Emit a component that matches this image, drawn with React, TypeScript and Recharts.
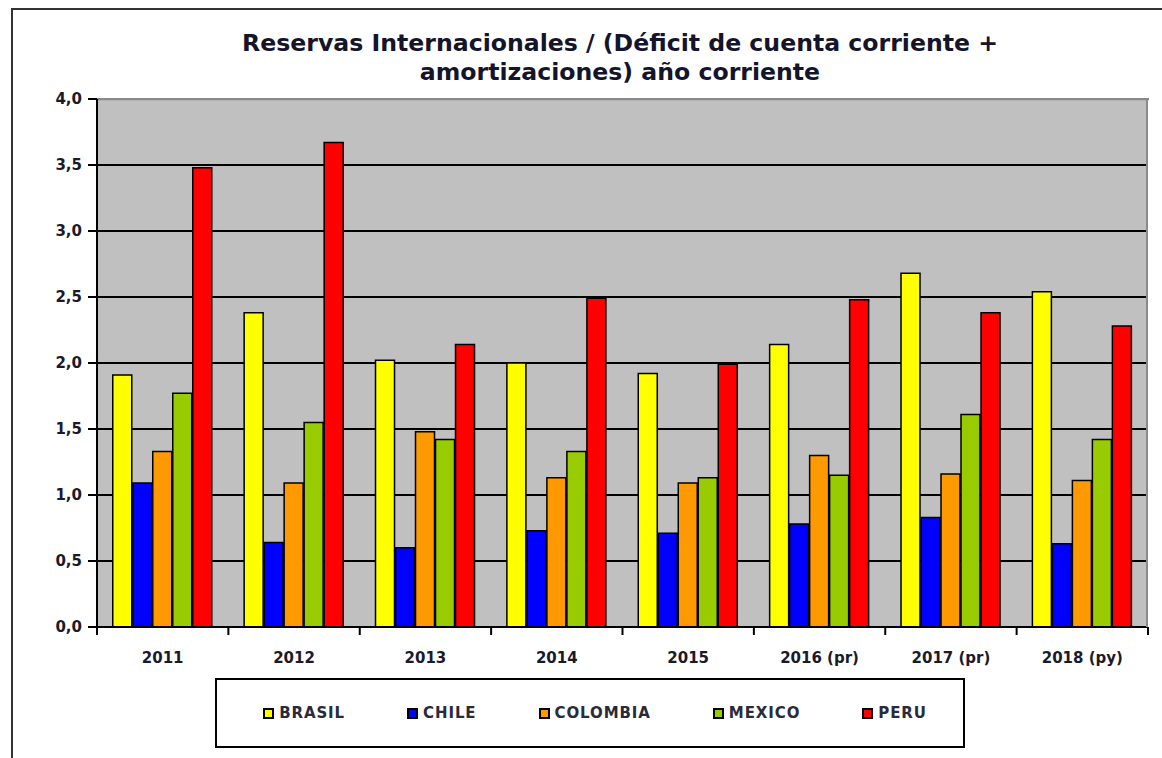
import { BarChart, Bar, XAxis, YAxis, CartesianGrid, ReferenceArea } from 'recharts';

const years = ['2011', '2012', '2013', '2014', '2015', '2016 (pr)', '2017 (pr)', '2018 (py)'];
const brasil = [1.91, 2.38, 2.02, 2.0, 1.92, 2.14, 2.68, 2.54];
const chile = [1.09, 0.64, 0.6, 0.73, 0.71, 0.78, 0.83, 0.63];
const colombia = [1.33, 1.09, 1.48, 1.13, 1.09, 1.3, 1.16, 1.11];
const mexico = [1.77, 1.55, 1.42, 1.33, 1.13, 1.15, 1.61, 1.42];
const peru = [3.48, 3.67, 2.14, 2.49, 1.99, 2.48, 2.38, 2.28];
const yTicks = [0, 0.5, 1, 1.5, 2, 2.5, 3, 3.5, 4];

const series = [
  { key: 'brasil', name: 'BRASIL', color: '#FFFF00' },
  { key: 'chile', name: 'CHILE', color: '#0000FF' },
  { key: 'colombia', name: 'COLOMBIA', color: '#FF9900' },
  { key: 'mexico', name: 'MEXICO', color: '#99CC00' },
  { key: 'peru', name: 'PERU', color: '#FF0000' },
];

const data = years.map((year, i) => ({
  year,
  brasil: brasil[i],
  chile: chile[i],
  colombia: colombia[i],
  mexico: mexico[i],
  peru: peru[i],
}));

const font = '"DejaVu Sans", Verdana, sans-serif';

// year label in the middle, tick marks on the category borders
const YearTick = (props: any) => {
  const { x, y, payload, index } = props;
  const half = payload.offset || 65.6;
  return (
    <g>
      <line x1={x - half} y1={y - 8} x2={x - half} y2={y} stroke="#000" strokeWidth={2} />
      {index === years.length - 1 && (
        <line x1={x + half} y1={y - 8} x2={x + half} y2={y} stroke="#000" strokeWidth={2} />
      )}
      <text
        x={x}
        y={y + 28}
        textAnchor="middle"
        fontFamily={font}
        fontWeight="bold"
        fontSize={15}
        fill="#1a1a2a"
      >
        {payload.value}
      </text>
    </g>
  );
};

const App = () => {
  return (
    <div style={{ position: 'absolute', left: 0, top: 0, width: 1162, height: 758, overflow: 'hidden', background: '#fff', fontFamily: font }}>
      <div style={{ position: 'absolute', left: 11, top: 8, width: 1200, height: 800, border: '2px solid #333' }} />
      <div
        style={{
          position: 'absolute',
          left: 80,
          top: 29,
          width: 1080,
          textAlign: 'center',
          fontSize: 23.6,
          fontWeight: 'bold',
          lineHeight: '29px',
          color: '#14142a',
        }}
      >
        Reservas Internacionales / (Déficit de cuenta corriente +
        <br />
        amortizaciones) año corriente
      </div>

      <div style={{ position: 'absolute', left: 0, top: 0 }}>
        <BarChart
          width={1162}
          height={758}
          data={data}
          margin={{ top: 99, right: 14, bottom: 91, left: 37 }}
          barCategoryGap="12%"
          barGap={1}
        >
          <CartesianGrid horizontal vertical={false} fill="#C0C0C0" stroke="#000" strokeWidth={2} fillOpacity={1} />
          <ReferenceArea y1={3.999} y2={4} stroke="#8a8a8a" strokeWidth={2} fill="none" ifOverflow="visible" />
          <XAxis
            dataKey="year"
            height={40}
            tickLine={false}
            tickSize={8}
            tickMargin={0}
            axisLine={{ stroke: '#000', strokeWidth: 2 }}
            tick={<YearTick />}
            interval={0}
          />
          <YAxis
            width={60}
            domain={[0, 4]}
            ticks={yTicks}
            tickFormatter={(v: number) => v.toFixed(1).replace('.', ',')}
            tickSize={9}
            tickMargin={6}
            tickLine={{ stroke: '#000', strokeWidth: 2 }}
            axisLine={{ stroke: '#000', strokeWidth: 2 }}
            tick={{ fill: '#1a1a2a', fontSize: 15, fontWeight: 'bold', fontFamily: font }}
          />
          {series.map((s) => (
            <Bar
              key={s.key}
              dataKey={s.key}
              name={s.name}
              fill={s.color}
              stroke="#000"
              strokeWidth={1.5}
              isAnimationActive={false}
            />
          ))}
        </BarChart>
      </div>

      <div style={{ position: 'absolute', left: 1146, top: 99, width: 2, height: 528, background: '#8a8a8a' }} />

      <div
        style={{
          position: 'absolute',
          left: 215,
          top: 678,
          width: 750,
          height: 70,
          border: '2px solid #000',
          display: 'flex',
          alignItems: 'center',
          justifyContent: 'center',
          gap: 62,
          paddingLeft: 10,
          boxSizing: 'border-box',
        }}
      >
        {series.map((s) => (
          <div key={s.key} style={{ display: 'flex', alignItems: 'center' }}>
            <span
              style={{
                display: 'inline-block',
                width: 7,
                height: 7,
                background: s.color,
                border: '2px solid #000',
                marginRight: 5,
              }}
            />
            <span style={{ fontSize: 15, fontWeight: 'bold', letterSpacing: 0.9, color: '#2a2a3a' }}>{s.name}</span>
          </div>
        ))}
      </div>
    </div>
  );
};

export default App;
